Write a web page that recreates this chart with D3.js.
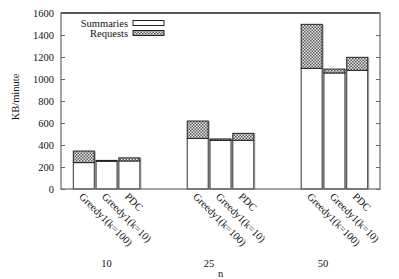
<!DOCTYPE html>
<html>
<head>
<meta charset="utf-8">
<script src="https://cdnjs.cloudflare.com/ajax/libs/d3/7.8.5/d3.min.js"></script>
<style>
  body { margin: 0; background: #fff; }
  svg text { font-family: "Liberation Serif", "DejaVu Serif", serif; font-size: 10.5px; fill: #111; }
</style>
</head>
<body>
<div class="chart"></div>
<script>
// groups (n) and methods
var groups  = ["10", "25", "50"];
var methods = ["Greedy1(k=100)", "Greedy1(k=10)", "PDC"];
// KB/minute, one row per group, one value per method
var summaries = [[240, 252, 255], [460, 442, 443], [1097, 1055, 1079]];
var requests  = [[105, 8, 28], [158, 13, 63], [400, 35, 118]];
var yTicks = [0, 200, 400, 600, 800, 1000, 1200, 1400, 1600];
// where the group labels sit, in bar units
var groupLabelPos = [1, 5.5, 10.5];

var W = 399, H = 279;
var margin = { top: 13, right: 19, bottom: 90, left: 61 },
    width = W - margin.left - margin.right,
    height = H - margin.top - margin.bottom;

var x = d3.scaleLinear().domain([-1, 13]).range([0, width]);
var y = d3.scaleLinear().domain([0, 1600]).range([height, 0]);
var unit = x(1) - x(0), barW = unit * 0.92;

var svg = d3.select(".chart").append("svg")
    .attr("width", W).attr("height", H)
  .append("g")
    .attr("transform", "translate(" + margin.left + "," + margin.top + ")");

var pat = svg.append("defs").append("pattern")
    .attr("id", "chk").attr("patternUnits", "userSpaceOnUse")
    .attr("width", 3).attr("height", 3);
pat.append("rect").attr("width", 3).attr("height", 3).attr("fill", "#eee");
pat.append("rect").attr("width", 1.5).attr("height", 1.5).attr("fill", "#555");
pat.append("rect").attr("x", 1.5).attr("y", 1.5).attr("width", 1.5).attr("height", 1.5).attr("fill", "#555");

// flatten to bars
var bars = [];
groups.forEach(function(g, i) {
  methods.forEach(function(m, j) {
    bars.push({ g: i, m: j, pos: i * 5 + j, s: summaries[i][j], r: requests[i][j] });
  });
});

var b = svg.selectAll(".bar").data(bars).enter().append("g").attr("class", "bar");

// light shadow on right of each bar
b.append("rect")
  .attr("x", function(d) { return x(d.pos) + barW / 2; })
  .attr("y", function(d) { return y(d.s + d.r); })
  .attr("width", 1.6)
  .attr("height", function(d) { return y(0) - y(d.s + d.r); })
  .attr("fill", "#b5b5b5");

b.append("rect")
  .attr("x", function(d) { return x(d.pos) - barW / 2; })
  .attr("y", function(d) { return y(d.s); })
  .attr("width", barW)
  .attr("height", function(d) { return y(0) - y(d.s); })
  .attr("fill", "#fff").attr("stroke", "#333").attr("stroke-width", 1);

b.append("rect")
  .attr("x", function(d) { return x(d.pos) - barW / 2; })
  .attr("y", function(d) { return y(d.s + d.r); })
  .attr("width", barW)
  .attr("height", function(d) { return y(d.s) - y(d.s + d.r); })
  .attr("fill", "url(#chk)").attr("stroke", "#222").attr("stroke-width", 1);

// frame
svg.append("rect").attr("width", width).attr("height", height)
  .attr("fill", "none").attr("stroke", "#666").attr("stroke-width", 1.2);
svg.append("line").attr("x1", 0).attr("x2", width).attr("y1", 0).attr("y2", 0)
  .attr("stroke", "#111").attr("stroke-width", 1);

// y axis left + mirrored right
var yAxis = d3.axisLeft(y).tickValues(yTicks).tickSizeInner(-4).tickSizeOuter(0)
  .tickPadding(7).tickFormat(d3.format("d"));
var ya = svg.append("g").call(yAxis).attr("font-family", null).attr("font-size", null);
ya.select(".domain").remove();
ya.selectAll("line").attr("stroke", "#666");
ya.selectAll("text").attr("fill", null);
var yr = svg.append("g").attr("transform", "translate(" + width + ",0)")
  .call(d3.axisRight(y).tickValues(yTicks).tickSizeInner(-4).tickSizeOuter(0).tickFormat(""));
yr.select(".domain").remove();
yr.selectAll("line").attr("stroke", "#666");

// rotated method labels
svg.selectAll(".mlab").data(bars).enter().append("text")
  .attr("class", "mlab")
  .attr("transform", function(d) { return "translate(" + x(d.pos) + "," + (height + 3) + ") rotate(45)"; })
  .attr("dy", "0.7em")
  .text(function(d) { return methods[d.m]; });

// group labels
svg.selectAll(".glab").data(groups).enter().append("text")
  .attr("x", function(d, i) { return x(groupLabelPos[i]); })
  .attr("y", height + 78)
  .attr("text-anchor", "middle")
  .text(function(d) { return d; });

svg.append("text").attr("x", width / 2).attr("y", height + 88)
  .attr("text-anchor", "middle").text("n");

svg.append("text")
  .attr("transform", "translate(-46," + (height / 2 - 4) + ") rotate(-90)")
  .attr("text-anchor", "middle").attr("dy", "0.35em")
  .text("KB/minute");

// legend
var legend = [{ name: "Summaries", fill: "#fff" }, { name: "Requests", fill: "url(#chk)" }];
var lg = svg.selectAll(".lg").data(legend).enter().append("g")
  .attr("transform", function(d, i) { return "translate(0," + (10 + i * 10) + ")"; });
lg.append("text").attr("x", 67).attr("text-anchor", "end").attr("dy", "0.35em")
  .text(function(d) { return d.name; });
lg.append("rect").attr("x", 72).attr("y", -2.5).attr("width", 31).attr("height", 5)
  .attr("fill", function(d) { return d.fill; }).attr("stroke", "#222").attr("stroke-width", 1);
</script>
</body>
</html>
